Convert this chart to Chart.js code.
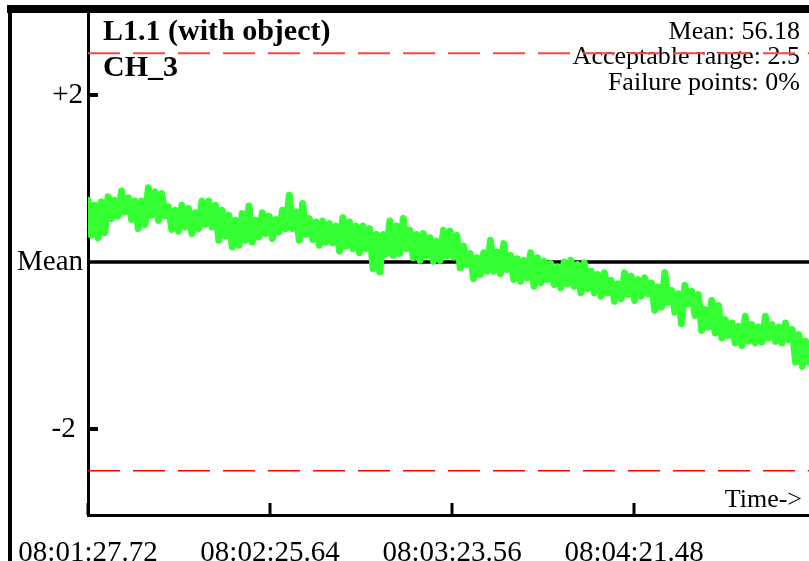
<!DOCTYPE html>
<html>
<head>
<meta charset="utf-8">
<script src="https://cdn.jsdelivr.net/npm/chart.js@4/dist/chart.umd.min.js"></script>
<style>
    html, body { margin: 0; padding: 0; background: #fff; }
    canvas { display: block; }
</style>
</head>
<body>
<canvas id="chart" width="809" height="561"></canvas>
<script>
// deviation from the mean, one sample every sampleInterval seconds
const deviation = [
    0.74, 0.32, 0.68, 0.29, 0.72, 0.35, 0.78, 0.52, 0.74, 0.55, 0.85, 0.60,
    0.77, 0.51, 0.73, 0.40, 0.73, 0.45, 0.89, 0.56, 0.84, 0.50, 0.82, 0.55,
    0.66, 0.39, 0.62, 0.37, 0.68, 0.42, 0.64, 0.34, 0.59, 0.40, 0.73, 0.45,
    0.73, 0.42, 0.68, 0.26, 0.62, 0.31, 0.56, 0.18, 0.50, 0.20, 0.58, 0.26,
    0.67, 0.24, 0.50, 0.30, 0.59, 0.34, 0.55, 0.28, 0.51, 0.36, 0.62, 0.40,
    0.80, 0.40, 0.60, 0.26, 0.70, 0.33, 0.52, 0.27, 0.48, 0.20, 0.49, 0.24,
    0.46, 0.23, 0.43, 0.13, 0.53, 0.19, 0.48, 0.16, 0.43, 0.11, 0.43, 0.16,
    0.40, -0.08, 0.33, -0.12, 0.33, 0.10, 0.49, 0.08, 0.43, 0.10, 0.52, 0.16,
    0.38, 0.05, 0.33, 0.02, 0.34, 0.07, 0.29, 0.01, 0.25, 0.02, 0.38, 0.07,
    0.37, 0.06, 0.32, -0.07, 0.19, -0.03, 0.10, -0.20, 0.05, -0.15, 0.11, -0.11,
    0.26, -0.11, 0.12, -0.14, 0.22, -0.09, 0.08, -0.21, 0.04, -0.23, 0.02, -0.19,
    0.11, -0.29, 0.05, -0.25, 0.01, -0.21, -0.02, -0.27, -0.06, -0.31, 0.00, -0.26,
    0.02, -0.29, -0.03, -0.37, -0.01, -0.32, -0.11, -0.37, -0.15, -0.41, -0.13, -0.37,
    -0.22, -0.47, -0.26, -0.44, -0.13, -0.39, -0.17, -0.46, -0.21, -0.41, -0.19, -0.38,
    -0.25, -0.58, -0.30, -0.54, -0.13, -0.48, -0.34, -0.60, -0.38, -0.74, -0.28, -0.50,
    -0.35, -0.64, -0.39, -0.82, -0.57, -0.78, -0.46, -0.85, -0.52, -0.91, -0.69, -0.88,
    -0.73, -0.97, -0.77, -1.00, -0.65, -0.95, -0.75, -0.97, -0.78, -0.96, -0.65, -0.91,
    -0.75, -0.95, -0.78, -0.97, -0.73, -0.93, -0.81, -1.20, -0.87, -1.25, -0.95, -1.20
];
const sampleInterval = 1.067;
const xMax = 229.4;

const tickSeconds = [0, 57.92, 115.84, 173.76];
const tickLabels = ['08:01:27.72', '08:02:25.64', '08:03:23.56', '08:04:21.48'];

const yTickValues = [-2, 0, 2];
const yTickLabels = ['-2 ', 'Mean', '+2'];
const yInnerTicks = [-2, 2];

const acceptableRange = 2.5;
const titleLines = ['L1.1 (with object)', 'CH_3'];
const infoLines = ['Mean: 56.18', 'Acceptable range: 2.5', 'Failure points: 0%'];

const SERIF = '"Liberation Serif", "DejaVu Serif", serif';

const textPlugin = {
    id: 'texts',
    beforeDatasetsDraw(chart) {
        const c = chart.ctx;
        c.save();
        c.fillStyle = '#000';
        c.textBaseline = 'middle';
        c.font = 'bold 30px ' + SERIF;
        c.textAlign = 'left';
        c.fillText(titleLines[0], 103, 32);
        c.fillText(titleLines[1], 103, 68);
        c.font = '26px ' + SERIF;
        c.textAlign = 'right';
        infoLines.forEach((t, i) => c.fillText(t, 800, 32 + i * 25.5));
        c.fillText('Time->', 802, 500);
        c.restore();
    },
    afterDraw(chart) {
        const c = chart.ctx;
        const xs = chart.scales.x, ys = chart.scales.y;
        const area = chart.chartArea;
        c.save();
        // frame
        c.fillStyle = '#000';
        c.fillRect(7, 5, 802, 8);
        c.fillRect(8, 5, 4, 556);
        // inward ticks
        c.strokeStyle = '#000';
        c.lineWidth = 3;
        c.lineCap = 'butt';
        tickSeconds.forEach(v => {
            const px = Math.round(xs.getPixelForValue(v));
            c.beginPath();
            c.moveTo(px, area.bottom);
            c.lineTo(px, area.bottom - 12);
            c.stroke();
        });
        c.lineWidth = 4;
        yInnerTicks.forEach(v => {
            const py = Math.round(ys.getPixelForValue(v));
            c.beginPath();
            c.moveTo(area.left, py);
            c.lineTo(area.left + 10, py);
            c.stroke();
        });
        c.restore();
    }
};

const noPad = s => { s.paddingTop = 0; s.paddingBottom = 0; s.paddingLeft = 0; s.paddingRight = 0; };

const points = deviation.map((v, i) => ({ x: i * sampleInterval, y: v }));
const flat = y => [{ x: 0, y: y }, { x: xMax, y: y }];

new Chart(document.getElementById('chart').getContext('2d'), {
    type: 'line',
    data: {
        datasets: [
            { data: points, borderColor: '#33ff33', borderWidth: 7, pointRadius: 0,
              borderJoinStyle: 'round', borderCapStyle: 'round', tension: 0 },
            { data: flat(0), borderColor: '#000', borderWidth: 3.5, pointRadius: 0 },
            { data: flat(acceptableRange), borderColor: '#ff4444', borderWidth: 2, borderDash: [32, 13], pointRadius: 0 },
            { data: flat(-acceptableRange), borderColor: '#ff0000', borderWidth: 1.5, borderDash: [32, 13], pointRadius: 0 }
        ]
    },
    options: {
        responsive: false,
        animation: false,
        devicePixelRatio: 1,
        layout: { padding: { top: 9, left: 0, right: 0, bottom: 0 } },
        plugins: { legend: { display: false }, tooltip: { enabled: false } },
        scales: {
            x: {
                type: 'linear', min: 0, max: xMax,
                afterBuildTicks: s => { s.ticks = tickSeconds.map(v => ({ value: v })); },
                afterFit: s => { s.height = 46; noPad(s); },
                grid: { display: false, drawTicks: false },
                border: { display: true, color: '#000', width: 3 },
                ticks: {
                    callback: v => tickLabels[tickSeconds.indexOf(v)],
                    font: { family: SERIF, size: 29 }, color: '#000',
                    padding: 21, maxRotation: 0, autoSkip: false
                }
            },
            y: {
                min: -3.03, max: 3.03,
                afterBuildTicks: s => { s.ticks = yTickValues.map(v => ({ value: v })); },
                afterFit: s => { s.width = 88; noPad(s); },
                grid: { display: false, drawTicks: false },
                border: { display: true, color: '#000', width: 3 },
                ticks: {
                    callback: v => yTickLabels[yTickValues.indexOf(v)],
                    font: { family: SERIF, size: 29 }, color: '#000', padding: 5
                }
            }
        }
    },
    plugins: [textPlugin]
});
</script>
</body>
</html>
